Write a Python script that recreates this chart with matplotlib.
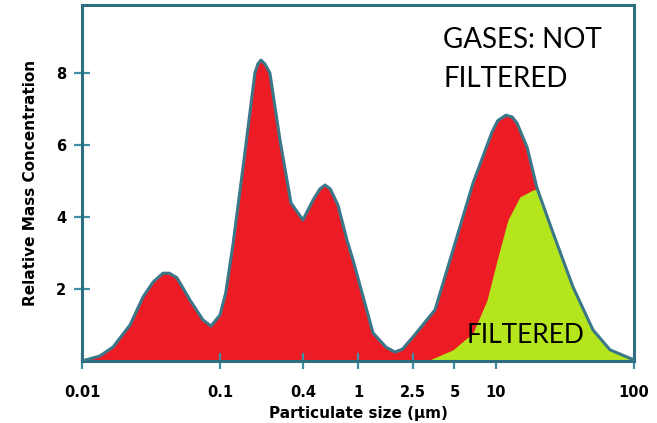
"""Particle size distribution: gases not filtered vs filtered."""

import matplotlib
matplotlib.use("Agg")
import matplotlib.pyplot as plt
import numpy as np

# total mass concentration (red area)
size_um = [0.01, 0.0135, 0.0168, 0.0223, 0.0277, 0.0327, 0.0386, 0.0430, 0.0488,
           0.0607, 0.0753, 0.0861, 0.1, 0.110, 0.124, 0.147, 0.179, 0.188, 0.198,
           0.212, 0.230, 0.272, 0.327, 0.399, 0.472, 0.530, 0.577, 0.630, 0.716,
           0.832, 0.920, 1.285, 1.60, 1.853, 2.10, 2.506, 3.614, 4.875, 6.81,
           9.35, 10.3, 11.8, 13.1, 14.2, 16.8, 19.8, 25.9, 36.1, 50.5, 67.0, 100.0]
total_conc = [0.0, 0.14, 0.39, 1.0, 1.78, 2.19, 2.44, 2.44, 2.31,
              1.69, 1.14, 0.97, 1.28, 1.89, 3.22, 5.39, 8.0, 8.25, 8.36,
              8.25, 8.0, 6.14, 4.39, 3.92, 4.47, 4.78, 4.89, 4.78, 4.33,
              3.36, 2.81, 0.78, 0.38, 0.25, 0.33, 0.67, 1.42, 3.08, 4.94,
              6.36, 6.68, 6.83, 6.78, 6.61, 5.94, 4.81, 3.56, 2.06, 0.86, 0.31, 0.03]

# part that is removed by the filter (green area)
filtered_size = [3.16, 4.88, 6.81, 8.61, 10.2, 12.2, 14.9, 18.5, 20.1,
                 25.9, 36.1, 50.5, 67.0, 100.0]
filtered_conc = [0.0, 0.31, 0.78, 1.69, 2.81, 3.92, 4.56, 4.75, 4.78,
                 3.56, 2.06, 0.86, 0.31, 0.03]

x_ticks = [0.01, 0.1, 0.4, 1, 2.5, 5, 10, 100]
x_tick_labels = ["0.01", "0.1", "0.4", "1", "2.5", "5", "10", "100"]
y_ticks = [2, 4, 6, 8]

RED = "#ED1C24"
GREEN = "#B5E61D"
OUTLINE = "#3A7788"
SPINE = "#2E6E80"
TICK = "#3F8EA6"

fig = plt.figure(figsize=(6.57, 4.23), dpi=100)
ax = fig.add_axes([0.1248, 0.1466, 0.8402, 0.8414])

ax.fill_between(size_um, total_conc, 0, color=RED, linewidth=0, zorder=1)
ax.fill_between(filtered_size, filtered_conc, 0, color=GREEN, linewidth=0, zorder=2)
ax.plot(size_um, total_conc, color=OUTLINE, linewidth=2.2, solid_joinstyle="round", zorder=3)

ax.set_xscale("log")
ax.set_xlim(0.01, 100)
ax.set_ylim(0, 9.89)

ax.set_xticks(x_ticks)
ax.set_xticklabels(x_tick_labels)
ax.xaxis.set_minor_locator(matplotlib.ticker.NullLocator())
ax.set_yticks(y_ticks)

ax.tick_params(axis="both", direction="inout", length=11, width=1.6, color=TICK,
               labelsize=10.5, labelcolor="black")
ax.tick_params(axis="x", pad=12)
ax.tick_params(axis="y", pad=6)
for lab in ax.get_xticklabels() + ax.get_yticklabels():
    lab.set_fontweight("bold")

for sp in ax.spines.values():
    sp.set_color(SPINE)
    sp.set_linewidth(2.2)

ax.set_xlabel("Particulate size (µm)", fontsize=11, fontweight="bold", labelpad=4)
ax.set_ylabel("Relative Mass Concentration", fontsize=11, fontweight="bold", labelpad=13)

ax.text(0.654, 0.937, "GASES: NOT\nFILTERED", transform=ax.transAxes,
        family="Lato", fontsize=20, va="top", ha="left", linespacing=1.6)
ax.text(0.696, 0.036, "FILTERED", transform=ax.transAxes,
        family="Lato", fontsize=19, va="bottom", ha="left")

fig.savefig("out.png", dpi=100)
